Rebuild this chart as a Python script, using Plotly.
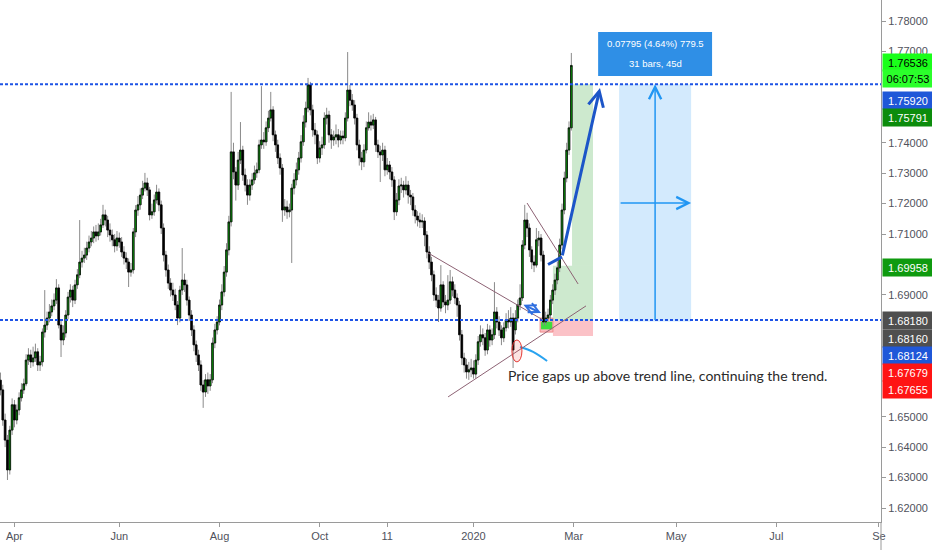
import numpy as np
import pandas as pd
import plotly.graph_objects as go

# ---------------- data (daily bars, last bar 2020-02-28) ----------------
closes = [
    1.6588, 1.6489, 1.6423, 1.6325, 1.6456, 1.6539, 1.6489, 1.6522, 1.6562, 1.6588,
    1.6608, 1.6686, 1.6703, 1.6680, 1.6693, 1.6713, 1.6670, 1.6680, 1.6778, 1.6801,
    1.6824, 1.6844, 1.6864, 1.6883, 1.6923, 1.6801, 1.6752, 1.6775, 1.6834, 1.6893,
    1.6916, 1.6883, 1.6933, 1.6966, 1.7008, 1.7021, 1.7031, 1.7054, 1.7074, 1.7087,
    1.7107, 1.7094, 1.7107, 1.7130, 1.7163, 1.7146, 1.7113, 1.7097, 1.7081, 1.7061,
    1.7087, 1.7074, 1.7041, 1.7021, 1.7008, 1.6975, 1.6982, 1.7107, 1.7179, 1.7196,
    1.7228, 1.7251, 1.7268, 1.7245, 1.7163, 1.7173, 1.7212, 1.7238, 1.7196, 1.7120,
    1.7031, 1.6982, 1.6939, 1.6916, 1.6900, 1.6867, 1.6824, 1.6916, 1.6949, 1.6933,
    1.6883, 1.6834, 1.6785, 1.6736, 1.6703, 1.6670, 1.6604, 1.6581, 1.6621, 1.6601,
    1.6621, 1.6742, 1.6785, 1.6811, 1.6867, 1.6910, 1.6975, 1.7048, 1.7140, 1.7370,
    1.7304, 1.7261, 1.7343, 1.7376, 1.7294, 1.7261, 1.7228, 1.7261, 1.7278, 1.7301,
    1.7311, 1.7393, 1.7409, 1.7403, 1.7449, 1.7481, 1.7508, 1.7426, 1.7393, 1.7350,
    1.7317, 1.7179, 1.7189, 1.7173, 1.7179, 1.7251, 1.7278, 1.7311, 1.7350, 1.7403,
    1.7468, 1.7514, 1.7590, 1.7508, 1.7442, 1.7426, 1.7350, 1.7383, 1.7393, 1.7481,
    1.7491, 1.7426, 1.7409, 1.7419, 1.7426, 1.7409, 1.7422, 1.7416, 1.7481, 1.7573,
    1.7540, 1.7524, 1.7481, 1.7393, 1.7350, 1.7337, 1.7376, 1.7449, 1.7468, 1.7458,
    1.7475, 1.7393, 1.7370, 1.7360, 1.7376, 1.7311, 1.7327, 1.7304, 1.7278, 1.7173,
    1.7212, 1.7258, 1.7261, 1.7245, 1.7261, 1.7228, 1.7222, 1.7179, 1.7159, 1.7146,
    1.7140, 1.7143, 1.7097, 1.7041, 1.7008, 1.6966, 1.6900, 1.6883, 1.6857, 1.6933,
    1.6877, 1.6867, 1.6883, 1.6943, 1.6916, 1.6890, 1.6867, 1.6769, 1.6693, 1.6670,
    1.6647, 1.6654, 1.6660, 1.6640, 1.6686, 1.6746, 1.6769, 1.6759, 1.6719, 1.6785,
    1.6752, 1.6769, 1.6844, 1.6811, 1.6785, 1.6759, 1.6792, 1.6818, 1.6811, 1.6824,
    1.6719, 1.6824, 1.6867, 1.6890, 1.7064, 1.7146, 1.7120, 1.7048, 1.7008, 1.6998,
    1.7081, 1.7087, 1.7031, 1.6811, 1.6824, 1.6834, 1.6883, 1.6916, 1.6949, 1.6989,
    1.7064, 1.7179, 1.7284, 1.7376, 1.7449, 1.7654,
]
highs = [
    1.6645, 1.6605, 1.6510, 1.6440, 1.6470, 1.6560, 1.6555, 1.6540, 1.6580, 1.6610,
    1.6625, 1.6705, 1.6725, 1.6720, 1.6730, 1.6740, 1.6725, 1.6700, 1.6790, 1.6916,
    1.6845, 1.6870, 1.6885, 1.6905, 1.6952, 1.6935, 1.6815, 1.6800, 1.6850, 1.6910,
    1.6935, 1.6930, 1.6950, 1.6985, 1.7146, 1.7045, 1.7055, 1.7075, 1.7095, 1.7110,
    1.7125, 1.7130, 1.7135, 1.7150, 1.7196, 1.7180, 1.7160, 1.7135, 1.7115, 1.7100,
    1.7110, 1.7105, 1.7090, 1.7060, 1.7040, 1.7020, 1.7005, 1.7120, 1.7195, 1.7225,
    1.7250, 1.7275, 1.7301, 1.7285, 1.7255, 1.7200, 1.7230, 1.7262, 1.7250, 1.7210,
    1.7135, 1.7045, 1.7000, 1.6955, 1.6940, 1.6920, 1.6880, 1.6930, 1.7054, 1.6970,
    1.6950, 1.6895, 1.6850, 1.6800, 1.6750, 1.6720, 1.6685, 1.6620, 1.6640, 1.6645,
    1.6640, 1.6760, 1.6805, 1.6830, 1.6885, 1.6935, 1.6995, 1.7070, 1.7160, 1.7567,
    1.7400, 1.7320, 1.7370, 1.7468, 1.7390, 1.7315, 1.7280, 1.7280, 1.7300, 1.7325,
    1.7335, 1.7410, 1.7586, 1.7435, 1.7470, 1.7505, 1.7567, 1.7520, 1.7440, 1.7410,
    1.7365, 1.7330, 1.7215, 1.7210, 1.7200, 1.7265, 1.7300, 1.7335, 1.7370, 1.7425,
    1.7490, 1.7535, 1.7613, 1.7600, 1.7525, 1.7465, 1.7440, 1.7405, 1.7420, 1.7500,
    1.7515, 1.7505, 1.7445, 1.7440, 1.7460, 1.7445, 1.7440, 1.7440, 1.7500, 1.7698,
    1.7590, 1.7560, 1.7540, 1.7495, 1.7410, 1.7370, 1.7395, 1.7470, 1.7500, 1.7490,
    1.7495, 1.7485, 1.7410, 1.7390, 1.7400, 1.7390, 1.7350, 1.7340, 1.7320, 1.7290,
    1.7235, 1.7280, 1.7285, 1.7275, 1.7290, 1.7275, 1.7245, 1.7235, 1.7195, 1.7175,
    1.7170, 1.7165, 1.7155, 1.7110, 1.7060, 1.7025, 1.6980, 1.6925, 1.6900, 1.6998,
    1.6945, 1.6900, 1.6965, 1.6982, 1.6960, 1.6935, 1.6905, 1.6880, 1.6785, 1.6710,
    1.6690, 1.6680, 1.6690, 1.6685, 1.6705, 1.6765, 1.6800, 1.6790, 1.6775, 1.6805,
    1.6800, 1.6790, 1.6942, 1.6860, 1.6830, 1.6800, 1.6810, 1.6840, 1.6850, 1.6860,
    1.6840, 1.6850, 1.6885, 1.6935, 1.7080, 1.7196, 1.7170, 1.7135, 1.7060, 1.7030,
    1.7120, 1.7110, 1.7100, 1.7045, 1.6845, 1.6855, 1.6900, 1.6935, 1.6970, 1.7010,
    1.7085, 1.7200, 1.7305, 1.7400, 1.7470, 1.7695,
]
lows = [
    1.6570, 1.6470, 1.6400, 1.6292, 1.6310, 1.6440, 1.6465, 1.6475, 1.6505, 1.6550,
    1.6575, 1.6600, 1.6670, 1.6660, 1.6665, 1.6680, 1.6650, 1.6650, 1.6665, 1.6760,
    1.6785, 1.6810, 1.6830, 1.6850, 1.6870, 1.6790, 1.6696, 1.6735, 1.6760, 1.6820,
    1.6875, 1.6860, 1.6870, 1.6920, 1.6955, 1.6990, 1.7005, 1.7015, 1.7040, 1.7060,
    1.7070, 1.7075, 1.7080, 1.7095, 1.7120, 1.7125, 1.7090, 1.7075, 1.7060, 1.7040,
    1.7045, 1.7055, 1.7025, 1.7000, 1.6985, 1.6926, 1.6960, 1.6970, 1.7090, 1.7160,
    1.7180, 1.7215, 1.7240, 1.7225, 1.7145, 1.7150, 1.7160, 1.7200, 1.7175, 1.7100,
    1.7010, 1.6960, 1.6920, 1.6895, 1.6880, 1.6850, 1.6801, 1.6810, 1.6900, 1.6910,
    1.6865, 1.6815, 1.6765, 1.6715, 1.6680, 1.6650, 1.6585, 1.6529, 1.6565, 1.6575,
    1.6585, 1.6610, 1.6725, 1.6770, 1.6800, 1.6850, 1.6895, 1.6960, 1.7030, 1.7125,
    1.7280, 1.7210, 1.7245, 1.7330, 1.7275, 1.7240, 1.7196, 1.7210, 1.7245, 1.7265,
    1.7285, 1.7300, 1.7380, 1.7380, 1.7390, 1.7435, 1.7470, 1.7405, 1.7370, 1.7330,
    1.7295, 1.7140, 1.7160, 1.7150, 1.7155, 1.7005, 1.7230, 1.7260, 1.7295, 1.7335,
    1.7390, 1.7450, 1.7500, 1.7490, 1.7420, 1.7395, 1.7330, 1.7335, 1.7360, 1.7380,
    1.7460, 1.7400, 1.7380, 1.7390, 1.7395, 1.7385, 1.7395, 1.7395, 1.7405, 1.7470,
    1.7520, 1.7505, 1.7460, 1.7375, 1.7325, 1.7310, 1.7320, 1.7365, 1.7440, 1.7440,
    1.7445, 1.7370, 1.7350, 1.7271, 1.7340, 1.7290, 1.7295, 1.7280, 1.7255, 1.7146,
    1.7160, 1.7195, 1.7235, 1.7220, 1.7230, 1.7200, 1.7195, 1.7160, 1.7135, 1.7125,
    1.7120, 1.7120, 1.7060, 1.7020, 1.6985, 1.6945, 1.6880, 1.6860, 1.6811, 1.6845,
    1.6860, 1.6840, 1.6850, 1.6870, 1.6895, 1.6870, 1.6828, 1.6750, 1.6670, 1.6645,
    1.6625, 1.6621, 1.6630, 1.6625, 1.6625, 1.6670, 1.6730, 1.6735, 1.6700, 1.6705,
    1.6730, 1.6735, 1.6755, 1.6790, 1.6765, 1.6735, 1.6745, 1.6780, 1.6790, 1.6795,
    1.6660, 1.6770, 1.6810, 1.6850, 1.6880, 1.7050, 1.7090, 1.7025, 1.6985, 1.6975,
    1.6990, 1.7060, 1.7010, 1.6800, 1.6800, 1.6812, 1.6820, 1.6870, 1.6900, 1.6935,
    1.6975, 1.7050, 1.7165, 1.7270, 1.7360, 1.7440,
]
first_open = 1.6620
gap_opens = {221: 1.6785}      # bar index -> open that differs from prior close

x_tick_dates = ["2019-04-01", "2019-06-03", "2019-08-01", "2019-10-01", "2019-11-11",
                "2020-01-01", "2020-03-02", "2020-05-01", "2020-07-01", "2020-09-01"]
x_tick_text = ["Apr", "Jun", "Aug", "Oct", "11", "2020", "Mar", "May", "Jul", "Se"]
y_tick_vals = [1.78, 1.77, 1.74, 1.73, 1.72, 1.71, 1.69, 1.65, 1.64, 1.63, 1.62]

level_lines = [1.7592, 1.6818]
# drawings: (bar index, price)
trend_lines = [((183.5, 1.7038), (232.8, 1.6818)),
               ((226.0, 1.7202), (247.9, 1.6936)),
               ((192.1, 1.6565), (251.3, 1.6864))]
measure = dict(k0=265.5, k1=296.4, p0=1.68124, p1=1.75920)
measure_text = ["0.07795 (4.64%) 779.5", "31 bars, 45d"]
note_text = "Price gaps up above trend line, continuing the trend."

# ---------------- helpers ----------------
N = len(closes)
opens = [first_open] + closes[:-1]
for k, v in gap_opens.items():
    opens[k] = v
days = pd.bdate_range(end="2020-02-28", periods=N)
ext = pd.bdate_range(start=days[0], periods=N + 200)


def T(k):
    i = int(np.floor(k))
    f = k - i
    if i < 0:
        return ext[0] + pd.Timedelta(hours=24 * k)
    return ext[i] + pd.Timedelta(hours=24 * f)


body_hi = [max(o, c) for o, c in zip(opens, closes)]
body_lo = [min(o, c) for o, c in zip(opens, closes)]

FONT = "Liberation Sans, Arial, sans-serif"
AX_COL = "#9a9a9a"
TXT_COL = "#4f525c"

fig = go.Figure()

# wicks (grey)
fig.add_trace(go.Candlestick(
    x=days, open=opens, high=highs, low=lows, close=closes,
    increasing=dict(line=dict(color="#8a8a8a", width=1), fillcolor="#8a8a8a"),
    decreasing=dict(line=dict(color="#8a8a8a", width=1), fillcolor="#8a8a8a"),
    hoverinfo="skip", showlegend=False))
# bodies (black outline, green / black fill)
fig.add_trace(go.Candlestick(
    x=days, open=opens, high=body_hi, low=body_lo, close=closes,
    increasing=dict(line=dict(color="#000000", width=0.7), fillcolor="#0a9a0a"),
    decreasing=dict(line=dict(color="#000000", width=0.7), fillcolor="#000000"),
    hoverinfo="skip", showlegend=False))

# ---------------- zones (below candles) ----------------
fig.add_shape(type="rect", x0=T(measure["k0"]), x1=T(measure["k1"]), y0=measure["p0"], y1=measure["p1"],
              fillcolor="rgba(33,150,243,0.2)", line=dict(width=0), layer="below")
fig.add_shape(type="rect", x0=T(237.1), x1=T(254.3), y0=1.6816, y1=1.69958,
              fillcolor="rgba(76,175,80,0.28)", line=dict(width=0), layer="below")
fig.add_shape(type="rect", x0=T(245.3), x1=T(254.3), y0=1.69958, y1=1.7592,
              fillcolor="rgba(76,175,80,0.28)", line=dict(width=0), layer="below")
fig.add_shape(type="rect", x0=T(237.1), x1=T(254.3), y0=1.67655, y1=1.6816,
              fillcolor="rgba(242,54,69,0.3)", line=dict(width=0), layer="below")
fig.add_shape(type="rect", x0=T(231.6), x1=T(237.1), y0=1.6778, y1=1.6824,
              fillcolor="rgba(242,54,69,0.35)", line=dict(color="#ef8a8a", width=1), layer="below")
fig.add_shape(type="rect", x0=T(232.0), x1=T(236.8), y0=1.6787, y1=1.6812,
              fillcolor="#3ddc3d", line=dict(width=0), layer="below")

# ---------------- lines above ----------------
for lv in level_lines:
    fig.add_shape(type="line", xref="paper", x0=0, x1=1, y0=lv, y1=lv,
                  line=dict(color="#1e53e5", width=2, dash="3px,2px"), layer="above")
for (a, b) in trend_lines:
    fig.add_shape(type="line", x0=T(a[0]), y0=a[1], x1=T(b[0]), y1=b[1],
                  line=dict(color="#8d6274", width=1), layer="above")

# ellipse + curve
fig.add_shape(type="circle", x0=T(219.5), x1=T(223.8), y0=1.6680, y1=1.6752,
              fillcolor="rgba(244,67,54,0.15)", line=dict(color="#e53935", width=1), layer="above")
fig.add_trace(go.Scatter(x=[T(223.0), T(228.6), T(234.6)], y=[1.6729, 1.6713, 1.6683],
                         mode="lines", line=dict(color="#29a3f0", width=2, shape="spline"),
                         hoverinfo="skip", showlegend=False))

# big blue arrow
fig.add_shape(type="line", x0=T(235.0), y0=1.7000, x1=T(241.0), y1=1.7025,
              line=dict(color="#1c55c8", width=3), layer="above")
fig.add_annotation(x=T(257.3), y=1.7580, ax=T(241.0), ay=1.7025, axref="x", ayref="y",
                   text="", showarrow=True, arrowhead=5, arrowsize=1, arrowwidth=3, arrowcolor="#1c55c8")
# small double arrow
fig.add_annotation(x=T(232.0), y=1.6841, ax=T(223.8), ay=1.6870, axref="x", ayref="y",
                   text="", showarrow=True, arrowhead=5, startarrowhead=5, arrowside="end+start",
                   arrowsize=1, startarrowsize=1, arrowwidth=2, arrowcolor="#2f6fe0")
# measure arrows
mx = (measure["k0"] + measure["k1"]) / 2
my = (measure["p0"] + measure["p1"]) / 2
fig.add_annotation(x=T(mx), y=measure["p1"], ax=T(mx), ay=measure["p0"], axref="x", ayref="y",
                   text="", showarrow=True, arrowhead=5, arrowsize=1.6, arrowwidth=1.5, arrowcolor="#2196f3")
fig.add_annotation(x=T(measure["k1"]), y=my, ax=T(measure["k0"]), ay=my, axref="x", ayref="y",
                   text="", showarrow=True, arrowhead=5, arrowsize=1.6, arrowwidth=1.5, arrowcolor="#2196f3")
# measure label
fig.add_shape(type="rect", x0=T(256.5), x1=T(305.4), y0=1.7619, y1=1.7764,
              fillcolor="#2f8fe6", line=dict(width=0), layer="above")
fig.add_annotation(x=T(mx), y=1.7725, text=measure_text[0], showarrow=False,
                   font=dict(color="white", size=9.5, family=FONT))
fig.add_annotation(x=T(mx), y=1.7659, text=measure_text[1], showarrow=False,
                   font=dict(color="white", size=9.5, family=FONT))

# note text
fig.add_annotation(x=T(217.0), y=1.6634, text=note_text, showarrow=False, xanchor="left", yanchor="middle",
                   font=dict(color="#2a2a2a", size=14, family="Lato, Roboto, sans-serif"))

# right-axis price labels (text, bg, fg, pixel centre from top)
axis_labels = [("1.76536", "#1aff1a", "#000000", 62), ("06:07:53", "#2bff2b", "#000000", 79),
               ("1.75920", "#1f57d8", "#ffffff", 100), ("1.75791", "#0c8c0c", "#ffffff", 117),
               ("1.69958", "#0f9a0f", "#ffffff", 267), ("1.68180", "#4f4f4f", "#ffffff", 320),
               ("1.68160", "#4f4f4f", "#ffffff", 338), ("1.68124", "#1f57d8", "#ffffff", 355),
               ("1.67679", "#ff1414", "#ffffff", 372), ("1.67655", "#ff1414", "#ffffff", 389)]
PLOT_H = 522
for txt, bg, fg, ypx in axis_labels:
    fig.add_annotation(xref="paper", yref="paper", x=1, y=1 - ypx / PLOT_H, xanchor="left", yanchor="middle",
                       xshift=1, text=txt, showarrow=False, bgcolor=bg, width=48, height=15, borderpad=1,
                       font=dict(color=fg, size=11, family=FONT))

fig.add_shape(type="line", xref="paper", yref="paper", x0=1, x1=1, y0=0, y1=-28 / PLOT_H,
              line=dict(color=AX_COL, width=1), layer="above")

fig.update_layout(
    width=932, height=550, margin=dict(l=0, r=51, t=0, b=28),
    paper_bgcolor="white", plot_bgcolor="white", showlegend=False, boxgap=0.0,
    xaxis=dict(type="date", range=[T(-0.2), T(377.9)], rangebreaks=[dict(bounds=["sat", "mon"])],
               rangeslider=dict(visible=False), tickvals=x_tick_dates, ticktext=x_tick_text,
               showgrid=False, zeroline=False, showline=True, linecolor=AX_COL, linewidth=1,
               ticks="outside", ticklen=4, tickcolor=AX_COL,
               tickfont=dict(size=11, color=TXT_COL, family=FONT)),
    yaxis=dict(side="right", range=[1.6154, 1.7869], tickvals=y_tick_vals,
               ticktext=["%.5f" % v for v in y_tick_vals],
               showgrid=False, zeroline=False, showline=True, linecolor=AX_COL, linewidth=1,
               ticks="outside", ticklen=4, tickcolor=AX_COL,
               tickfont=dict(size=11, color=TXT_COL, family=FONT)),
)

fig.write_html("out.html", config={"displayModeBar": False, "staticPlot": True},
               post_script="document.body.style.margin='0px';document.body.style.padding='0px';")
